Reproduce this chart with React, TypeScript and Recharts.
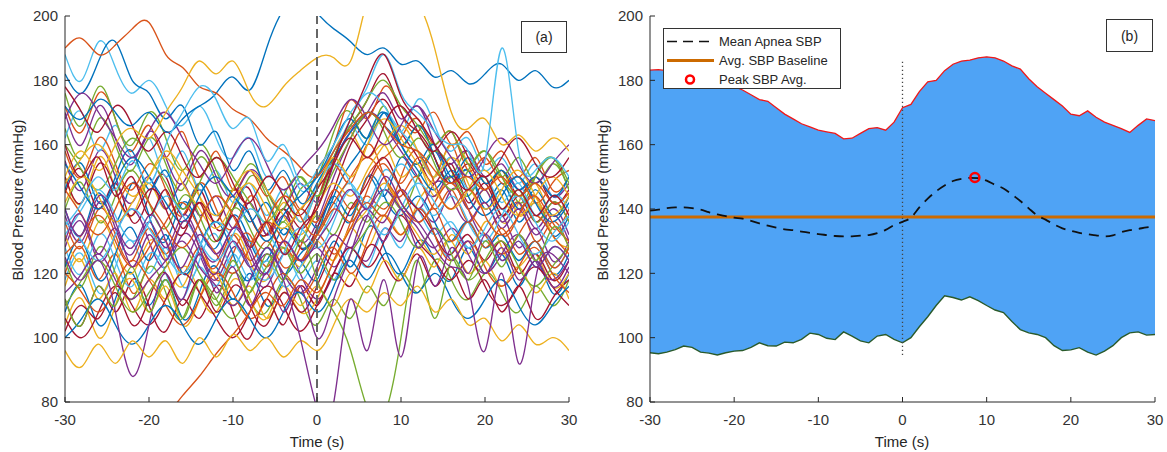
import React from 'react';
import { ComposedChart, Line, Area, XAxis, YAxis, ReferenceLine, ReferenceDot } from 'recharts';

// ---------- Panel (a) data ----------
const TIMES_A = [-30,-28,-26,-24,-22,-20,-18,-16,-14,-12,-10,-8,-6,-4,-2,0,2,4,6,8,10,12,14,16,18,20,22,24,26,28,30];

const sBlueTop = [172,168,174,170,166,170,164,168,172,176,181,177,190,202,206,201,196,192,188,190,185,186,181,183,179,182,185,180,183,178,180];
const sRedTop = [190,193,188,191,196,198,188,184,178,176,171,168,162,158,153,150,158,165,170,166,160,158,152,148,150,146,150,144,148,142,145];
const sYellowHigh = [150,158,152,160,165,162,170,178,186,182,186,176,172,178,183,187,187,186,205,212,208,204,190,170,165,168,160,163,158,162,158];
const sPurpleLow = [125,118,124,108,88,104,120,112,126,114,122,110,120,108,116,100,112,126,138,130,140,128,134,124,130,120,128,118,124,116,122];
const sGreenDip = [112,104,116,110,122,108,118,106,118,112,124,114,126,118,130,118,108,96,78,76,100,124,106,124,118,130,122,132,124,134,128];
const sCyanSpike = [135,142,150,146,155,148,160,170,178,174,165,168,155,160,148,152,160,170,178,188,176,170,164,160,158,155,190,158,152,156,150];
const sDarkRed = [160,150,156,144,150,138,146,134,142,130,138,128,136,126,134,140,155,168,180,188,175,168,160,152,146,150,140,146,138,144,138];
const sOrangeRamp = [34,41,48,55,62,68,75,82,88,95,101,108,114,110,118,114,124,134,142,138,146,136,140,130,136,128,134,126,130,122,128];
const sYellowLow = [96,91,98,92,99,94,99,92,100,94,101,96,100,94,99,96,104,112,108,114,110,116,108,112,104,106,99,104,98,100,96];
const sPurpleZero = [130,138,126,134,122,132,124,136,128,120,130,122,128,118,100,78,80,112,96,118,94,124,116,128,120,132,124,130,122,128,124];
const sPurpleLate = [140,132,144,136,128,138,130,122,132,126,134,128,120,130,124,130,138,146,140,150,142,136,128,122,116,96,120,92,118,126,120];

const b1 = [140,132,145,136,148,138,130,142,134,128,138,130,124,134,128,134,142,136,150,144,156,150,158,148,152,140,146,136,142,132,138];
const b2 = [120,128,118,126,114,124,130,120,128,118,126,132,122,130,124,132,126,136,144,140,150,158,150,160,146,150,138,142,130,136,128];
const b3 = [150,142,156,146,138,148,140,152,144,136,146,138,132,142,136,146,158,164,156,160,150,154,144,150,140,146,136,142,148,138,144];
const b4 = [128,136,124,132,140,130,122,132,126,118,128,122,116,126,120,112,120,128,124,134,130,140,136,146,140,132,138,128,134,124,130];
const b5 = [165,156,168,160,152,162,154,146,156,148,140,150,144,136,146,150,164,170,162,172,160,166,156,150,158,148,152,142,150,156,146];
const b6 = [118,126,114,122,130,120,128,116,124,132,122,130,120,128,118,124,118,128,122,134,128,140,132,126,136,128,132,124,130,122,128];
const b7 = [145,152,140,148,136,144,150,138,146,134,140,146,132,140,128,134,146,160,168,174,164,156,148,154,142,148,138,144,136,142,136];
const b8 = [108,116,104,112,120,110,118,106,114,122,112,120,110,118,124,118,130,122,134,128,120,130,124,118,128,120,126,116,124,114,120];
const b9 = [172,164,176,168,158,166,156,164,150,158,146,152,144,150,140,152,160,174,168,178,170,164,170,160,164,154,158,150,156,146,150];
const b10 = [132,124,136,128,120,130,124,116,126,120,132,124,118,128,122,130,124,134,128,138,132,142,150,160,154,146,150,138,142,132,128];
const b11 = [155,146,158,150,142,150,140,148,138,144,134,142,132,138,130,136,150,162,170,166,158,150,144,150,140,146,136,142,134,140,132];
const b12 = [124,116,128,120,112,122,114,106,118,110,120,112,108,118,112,104,112,106,116,110,120,114,124,118,112,120,114,108,116,110,118];
const b13 = [162,170,158,166,156,162,150,158,146,152,142,148,138,146,136,148,156,166,160,170,164,174,166,158,162,152,156,148,154,144,150];
const b14 = [112,104,116,108,118,110,102,112,106,116,108,100,112,104,116,110,120,116,128,124,118,126,116,122,112,118,108,116,106,112,118];
const b15 = [146,154,142,150,158,146,152,140,148,138,144,136,142,132,140,134,144,154,162,170,160,166,156,148,152,142,148,140,146,138,144];
const b16 = [136,128,140,132,124,134,126,136,128,122,132,124,130,122,128,142,154,148,160,150,144,150,140,146,136,142,132,138,144,134,140];
const b17 = [116,124,112,120,108,118,112,122,114,108,118,112,106,116,110,116,110,120,114,124,118,128,122,132,126,136,128,122,126,116,120];
const b18 = [170,160,172,162,154,164,156,148,158,150,144,152,146,140,148,142,154,164,170,176,168,172,160,154,158,150,154,146,150,144,148];
const b19 = [140,148,136,144,152,142,134,144,138,130,140,134,128,136,130,138,132,142,136,146,140,150,158,152,144,150,140,146,136,142,136];
const b20 = [128,120,132,124,116,126,120,112,122,116,126,118,124,116,122,130,140,148,142,152,146,140,132,136,128,132,124,130,122,128,124];
const b21 = [150,142,154,146,138,146,140,132,142,136,146,138,132,140,134,142,156,166,174,182,170,164,156,148,154,146,152,144,150,142,146];
const b22 = [122,130,118,126,134,124,132,120,128,136,126,118,128,120,126,132,144,138,150,144,138,144,136,130,136,128,132,124,130,120,126];
const b23 = [158,150,162,154,146,154,146,138,148,140,134,144,136,130,140,136,146,140,150,156,162,168,160,164,152,156,148,150,142,148,152];
const b24 = [104,112,100,110,118,108,116,104,112,120,110,116,106,114,108,112,124,134,140,148,140,132,126,130,120,124,116,122,114,120,112];
const b25 = [138,130,142,134,126,136,128,138,130,124,134,126,120,130,124,128,122,132,140,136,146,140,148,144,136,142,134,140,132,138,130];
const b26 = [176,166,178,168,160,170,162,152,160,152,146,154,146,140,150,144,156,166,174,180,172,166,160,164,154,158,150,156,148,154,146];
const b27 = [188,180,192,184,176,180,172,166,172,162,156,162,150,156,146,150,158,168,176,172,164,158,150,156,146,150,142,148,138,144,140];
const b28 = [102,110,106,114,104,112,120,110,118,108,116,110,104,114,108,116,128,140,148,156,146,140,132,126,132,124,130,120,126,118,124];
const b29 = [182,176,186,192,180,176,168,172,160,164,152,158,146,152,142,148,156,164,170,166,160,154,160,150,156,148,152,146,150,144,150];
const c1 = [126,132,138,130,122,128,136,142,134,126,120,128,136,130,124,132,142,150,156,150,142,136,142,148,140,132,126,132,138,132,126];
const c2 = [148,156,160,152,144,150,158,152,144,138,146,152,146,138,132,140,148,144,152,160,166,158,150,156,148,140,146,152,144,138,144];
const c3 = [114,120,126,118,112,118,124,130,122,116,110,118,126,120,114,122,132,128,138,146,140,134,128,134,126,120,126,132,124,118,124];
const c4 = [160,152,146,154,162,156,148,140,148,156,150,142,136,144,150,144,152,162,170,164,156,162,154,146,152,158,150,144,150,156,148];
const c5 = [132,140,146,138,130,136,144,138,130,124,132,140,134,126,132,146,154,148,140,146,154,146,138,144,136,130,138,144,136,130,136];
const c6 = [106,100,108,116,110,104,112,120,114,106,100,108,116,110,102,110,120,128,122,130,138,130,124,118,124,116,110,116,122,116,110];
const c7 = [154,146,140,148,156,150,142,136,144,150,144,138,130,138,144,150,160,168,162,170,160,152,146,152,144,138,144,150,142,136,142];
const c8 = [120,114,108,116,124,118,110,104,112,120,114,106,112,120,114,120,128,120,130,138,132,140,132,124,130,122,116,122,128,120,114];
const c9 = [142,150,144,136,142,150,156,148,140,134,142,148,140,134,140,146,156,150,160,168,162,154,146,140,146,152,144,138,144,150,144];
const c10 = [168,176,170,162,156,164,170,162,154,148,156,162,154,146,152,158,166,174,168,160,166,172,164,156,150,156,162,154,148,154,160];
const c11 = [110,118,124,116,108,114,122,128,120,112,106,114,122,128,120,126,118,126,134,142,136,128,134,126,118,124,130,122,116,122,128];
const c12 = [136,130,124,132,140,134,126,120,128,136,130,122,118,126,134,128,136,146,140,132,140,148,142,134,128,134,140,132,126,132,138];
const c13 = [178,170,164,172,166,158,164,156,150,156,148,142,150,144,138,146,154,162,156,166,172,164,158,164,156,150,156,162,154,150,156];
const c14 = [100,106,112,104,98,104,110,104,98,106,112,106,100,108,114,108,116,124,118,126,120,114,120,112,106,112,118,110,104,110,116];
const c15 = [146,138,132,140,148,142,134,128,136,144,138,130,136,144,138,132,140,136,146,154,148,156,148,140,146,138,132,138,144,136,130];

const BULK_A = [
  b1,b2,b3,b4,b5,b6,b7,b8,b9,b10,b11,b12,b13,b14,b15,b16,b17,b18,b19,b20,b21,b22,b23,b24,b25,b26,b27,b28,b29,
  c1,c2,c3,c4,c5,c6,c7,c8,c9,c10,c11,c12,c13,c14,c15,
];
const SPECIAL_A = [sBlueTop,sRedTop,sYellowHigh,sPurpleLow,sGreenDip,sCyanSpike,sDarkRed,sOrangeRamp,sYellowLow,sPurpleZero,sPurpleLate];
const SERIES_A = [...BULK_A, ...SPECIAL_A];

const PALETTE = ['#0072BD','#D95319','#EDB120','#7E2F8E','#77AC30','#4DBEEE','#A2142F'];
const SPECIAL_COLORS = ['#0072BD','#D95319','#EDB120','#7E2F8E','#77AC30','#4DBEEE','#A2142F','#D95319','#EDB120','#7E2F8E','#7E2F8E'];
const COLORS_A = SERIES_A.map((_, i) => (i < BULK_A.length ? PALETTE[i % 7] : SPECIAL_COLORS[i - BULK_A.length]));

const X_TICKS = [-30,-20,-10,0,10,20,30];
const Y_TICKS = [80,100,120,140,160,180,200];

const dataA = TIMES_A.map((t, i) => {
  const row: Record<string, number> = { t };
  SERIES_A.forEach((s, j) => { row['s' + j] = s[i]; });
  return row;
});

// ---------- Panel (b) data ----------
const TIMES_B = Array.from({ length: 61 }, (_, i) => i - 30);
const UPPER = [183.2,183.3,183,183,182.5,182,181.5,180.5,180,179.5,
  178,177,175.5,174,173.5,171.5,169.5,168,166.5,165.5,
  164.5,164,163.5,161.8,162,163.5,165,165.3,164.5,167,
  171.5,172.5,176.5,179.5,180,183,185,186,186.3,187,
  187.3,187,186,184.5,183.5,180.5,178,176,174,172,
  169.5,169,170.5,168.5,167,166,165,163.8,166,168,
  167.5];
const LOWER = [95.3,95,95.5,96.3,97.4,97,95.5,95.2,94.6,95.3,
  95.8,96,97,98.4,97.5,97.4,98.6,98.4,99.5,101.4,
  101,99.8,99.4,101.8,100.5,99,98.4,100.5,101,99.5,
  98.4,100,103.4,106.5,110,113,112.5,111.7,112.7,111.5,
  110,108.6,107.8,105,102.5,101.5,101,100,97.5,96,
  96.2,96.9,95.5,94.6,95.8,97.5,100,101.5,101.8,100.8,
  101];
const MEAN = [139.5,139.8,140.3,140.5,140.5,140.3,139.8,139,138.3,137.8,
  137.3,137,136.3,135.5,134.8,134.2,133.7,133.4,133,132.6,
  132.2,131.9,131.6,131.5,131.5,131.7,131.9,132.5,133.5,135,
  136,137.3,140.5,143.2,145.5,147.3,148.7,149.4,149.7,149.6,
  148.8,147.5,146.4,144.5,142.5,140.2,138,136.7,135.2,134,
  133.2,132.6,132.2,131.8,131.5,131.8,132.8,133.4,133.8,134.3,
  134.5];
const BASELINE = 137.5;
const PEAK = { t: 8.6, v: 149.8 };
const ONSET_RANGE = [94.6, 186.5];

const dataB = TIMES_B.map((t, i) => ({ t, hi: UPPER[i], lo: LOWER[i], mean: MEAN[i] }));

const FONT = '"Liberation Sans", Arial, Helvetica, sans-serif';
const AXIS = '#262626';
const tickStyle = { fontSize: 15, fill: '#333', fontFamily: FONT };

const App = () => {
  return (
    <div style={{ position: 'absolute', left: 0, top: 0, width: 1167, height: 452, background: '#fff', fontFamily: FONT, color: '#262626' }}>
      {/* Panel (a) */}
      <div style={{ position: 'absolute', left: 0, top: 0 }}>
        <ComposedChart width={590} height={452} data={dataA} margin={{ top: 16, right: 21, bottom: 20, left: 0 }}>
          <XAxis dataKey="t" type="number" domain={[-30, 30]} ticks={X_TICKS} height={30} tickSize={-5} tickMargin={17}
            stroke={AXIS} tick={tickStyle} interval={0} allowDataOverflow />
          <XAxis xAxisId="top" orientation="top" dataKey="t" type="number" domain={[-30, 30]} ticks={X_TICKS} height={0}
            tickSize={-5} tick={false} stroke={AXIS} interval={0} />
          <YAxis type="number" domain={[80, 200]} ticks={Y_TICKS} width={65} tickSize={-5} tickMargin={12}
            stroke={AXIS} tick={tickStyle} interval={0} allowDataOverflow />
          <YAxis yAxisId="right" orientation="right" type="number" domain={[80, 200]} ticks={Y_TICKS} width={0}
            tickSize={-5} tick={false} stroke={AXIS} interval={0} />
          {SERIES_A.map((_, j) => (
            <Line key={j} dataKey={'s' + j} type="natural" stroke={COLORS_A[j]} strokeWidth={1.35} dot={false}
              isAnimationActive={false} />
          ))}
          <ReferenceLine x={0} stroke="#666" strokeWidth={2} strokeDasharray="9 5" />
        </ComposedChart>
      </div>

      {/* Panel (b) */}
      <div style={{ position: 'absolute', left: 590, top: 0 }}>
        <ComposedChart width={577} height={452} data={dataB} margin={{ top: 16, right: 12, bottom: 20, left: 0 }}>
          <XAxis dataKey="t" type="number" domain={[-30, 30]} ticks={X_TICKS} height={30} tickSize={-5} tickMargin={17}
            stroke={AXIS} tick={tickStyle} interval={0} allowDataOverflow />
          <XAxis xAxisId="top" orientation="top" dataKey="t" type="number" domain={[-30, 30]} ticks={X_TICKS} height={0}
            tickSize={-5} tick={false} stroke={AXIS} interval={0} />
          <YAxis type="number" domain={[80, 200]} ticks={Y_TICKS} width={60} tickSize={-5} tickMargin={12}
            stroke={AXIS} tick={tickStyle} interval={0} allowDataOverflow />
          <YAxis yAxisId="right" orientation="right" type="number" domain={[80, 200]} ticks={Y_TICKS} width={0}
            tickSize={-5} tick={false} stroke={AXIS} interval={0} />
          <Area dataKey={(d: any) => [d.lo, d.hi]} type="linear" fill="#4fa3f5" fillOpacity={1} stroke="none"
            isAnimationActive={false} />
          <Line dataKey="hi" type="linear" stroke="#f01818" strokeWidth={1.3} dot={false} isAnimationActive={false} />
          <Line dataKey="lo" type="linear" stroke="#2a5a2a" strokeWidth={1.4} dot={false} isAnimationActive={false} />
          <ReferenceLine y={BASELINE} stroke="#cc6a00" strokeWidth={3} />
          <ReferenceLine segment={[{ x: 0, y: ONSET_RANGE[0] }, { x: 0, y: ONSET_RANGE[1] }]} stroke="#444"
            strokeWidth={1.3} strokeDasharray="1.3 2.7" />
          <Line dataKey="mean" type="monotone" stroke="#111" strokeWidth={1.8} strokeDasharray="10 7" dot={false}
            isAnimationActive={false} />
          <ReferenceDot x={PEAK.t} y={PEAK.v} r={4.5} fill="none" stroke="#f00" strokeWidth={2.5} />
        </ComposedChart>
      </div>

      {/* Axis labels */}
      <div style={{ position: 'absolute', left: 17, top: 200, transform: 'translate(-50%,-50%) rotate(-90deg)', fontSize: 15, whiteSpace: 'nowrap' }}>Blood Pressure (mmHg)</div>
      <div style={{ position: 'absolute', left: 602, top: 200, transform: 'translate(-50%,-50%) rotate(-90deg)', fontSize: 15, whiteSpace: 'nowrap' }}>Blood Pressure (mmHg)</div>
      <div style={{ position: 'absolute', left: 317, top: 441, transform: 'translate(-50%,-50%)', fontSize: 15, whiteSpace: 'nowrap' }}>Time (s)</div>
      <div style={{ position: 'absolute', left: 902, top: 441, transform: 'translate(-50%,-50%)', fontSize: 15, whiteSpace: 'nowrap' }}>Time (s)</div>

      {/* Panel labels */}
      <div style={{ position: 'absolute', left: 521, top: 21, width: 44, height: 30, border: '1.5px solid #333', background: '#fff', display: 'flex', alignItems: 'center', justifyContent: 'center', fontSize: 14 }}>(a)</div>
      <div style={{ position: 'absolute', left: 1106, top: 19, width: 45, height: 31, border: '1.5px solid #333', background: '#fff', display: 'flex', alignItems: 'center', justifyContent: 'center', fontSize: 14 }}>(b)</div>

      {/* Legend (b) */}
      <div style={{ position: 'absolute', left: 663, top: 28, width: 176, height: 59, border: '1px solid #333', background: '#fff', fontSize: 13 }}>
        {[
          { label: 'Mean Apnea SBP', kind: 'dash' },
          { label: 'Avg. SBP Baseline', kind: 'solid' },
          { label: 'Peak SBP Avg.', kind: 'circle' },
        ].map((e, i) => (
          <div key={i} style={{ position: 'absolute', left: 0, top: 3 + i * 19, height: 19, width: 176, display: 'flex', alignItems: 'center' }}>
            <svg width={54} height={19} style={{ flex: 'none' }}>
              {e.kind === 'dash' && <line x1={3} y1={9.5} x2={50} y2={9.5} stroke="#111" strokeWidth={1.5} strokeDasharray="10 6" />}
              {e.kind === 'solid' && <line x1={3} y1={9.5} x2={50} y2={9.5} stroke="#cc6a00" strokeWidth={3} />}
              {e.kind === 'circle' && <circle cx={26} cy={9.5} r={4} fill="none" stroke="#f00" strokeWidth={2.5} />}
            </svg>
            <span style={{ marginLeft: 1, whiteSpace: 'nowrap' }}>{e.label}</span>
          </div>
        ))}
      </div>
    </div>
  );
};

export default App;
